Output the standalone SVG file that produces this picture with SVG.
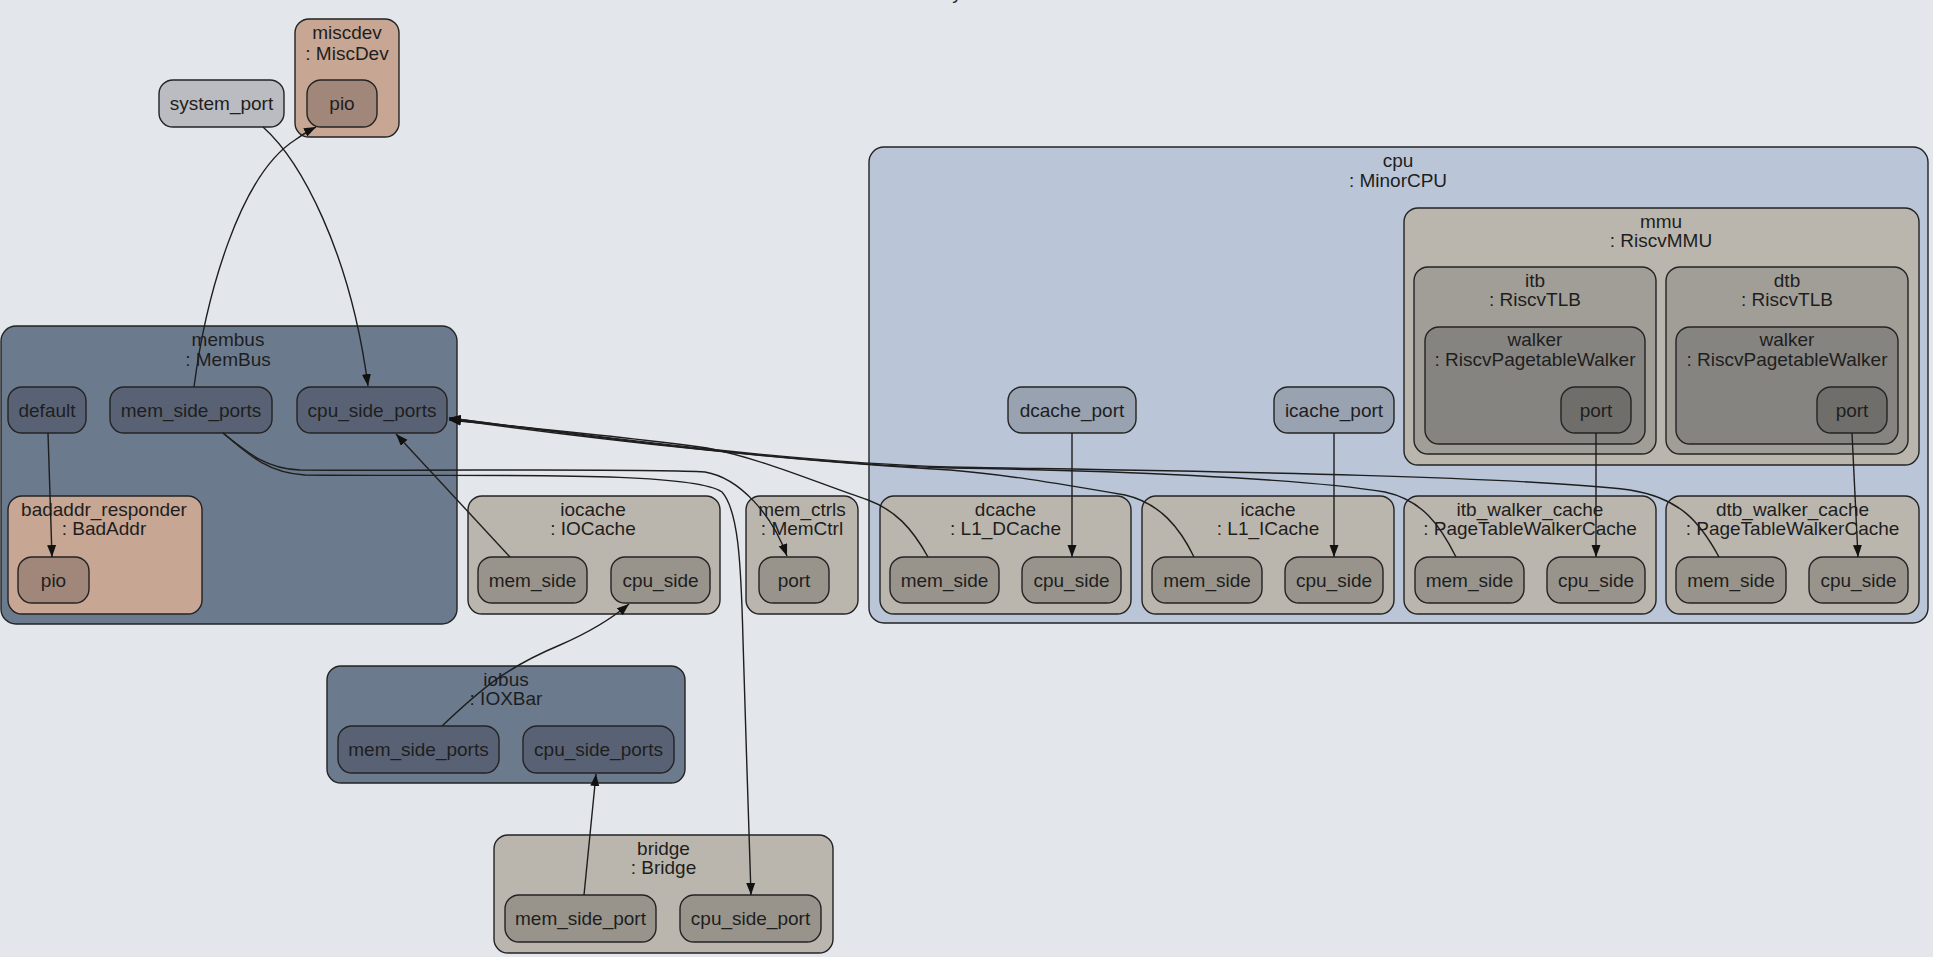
<svg xmlns="http://www.w3.org/2000/svg" width="1933" height="957" viewBox="0 0 1933 957">
<defs>
<style>
.n rect{stroke:#232323;stroke-width:1.4}
text{font-family:"Liberation Sans",Arial,sans-serif;font-size:19px;fill:#1e1e1e;text-anchor:middle}
.bus{fill:#6c7a8e}.busport{fill:#596274}
.cache{fill:#bbb6ad}.cport{fill:#98948c}
.dev{fill:#c7a693}.devport{fill:#a1877a}
.cpu{fill:#bac6d8}.cpuport{fill:#98a2b1}
.tlb{fill:#a19e97}.walker{fill:#868480}.wport{fill:#6f6e6a}
.sys{fill:#babcc1}
.e path{fill:none;stroke:#1e1e1e;stroke-width:1.4;marker-end:url(#ah)}
</style>
<marker id="ah" markerUnits="userSpaceOnUse" markerWidth="13" markerHeight="10" refX="12" refY="4.5" orient="auto"><path d="M0,0 L12,4.5 L0,9 z" fill="#111"/></marker>
</defs>
<rect width="1933" height="957" fill="#e3e7ec"/>
<text x="966" y="-1">: System</text>

<g id="system_port" class="n"><rect class="sys" x="159" y="80" width="125" height="47" rx="14"/><text x="221.5" y="110">system_port</text></g>

<g id="miscdev" class="n"><rect class="dev" x="295" y="19" width="104" height="118" rx="14"/><text x="347" y="39">miscdev</text><text x="347" y="60">: MiscDev</text></g>
<g id="miscdev_pio" class="n"><rect class="devport" x="307" y="80" width="70" height="47" rx="14"/><text x="342" y="110">pio</text></g>

<g id="membus" class="n"><rect class="bus" x="1" y="326" width="456" height="298" rx="15"/><text x="228" y="346">membus</text><text x="228" y="366">: MemBus</text></g>
<g id="membus_default" class="n"><rect class="busport" x="8" y="387" width="78" height="46" rx="14"/><text x="47" y="417">default</text></g>
<g id="membus_mem_side_ports" class="n"><rect class="busport" x="110" y="387" width="162" height="46" rx="14"/><text x="191" y="417">mem_side_ports</text></g>
<g id="membus_cpu_side_ports" class="n"><rect class="busport" x="297" y="387" width="150" height="46" rx="14"/><text x="372" y="417">cpu_side_ports</text></g>
<g id="badaddr_responder" class="n"><rect class="dev" x="8" y="496" width="194" height="118" rx="14"/><text x="104" y="516">badaddr_responder</text><text x="104" y="535">: BadAddr</text></g>
<g id="badaddr_pio" class="n"><rect class="devport" x="18" y="557" width="71" height="46" rx="14"/><text x="53.5" y="587">pio</text></g>

<g id="iocache" class="n"><rect class="cache" x="468" y="496" width="252" height="118" rx="14"/><text x="593" y="516">iocache</text><text x="593" y="535">: IOCache</text></g>
<g id="iocache_mem_side" class="n"><rect class="cport" x="478" y="557" width="109" height="46" rx="14"/><text x="532.5" y="587">mem_side</text></g>
<g id="iocache_cpu_side" class="n"><rect class="cport" x="611" y="557" width="99" height="46" rx="14"/><text x="660.5" y="587">cpu_side</text></g>

<g id="mem_ctrls" class="n"><rect class="cache" x="746" y="496" width="112" height="118" rx="14"/><text x="802" y="516">mem_ctrls</text><text x="802" y="535">: MemCtrl</text></g>
<g id="mem_ctrls_port" class="n"><rect class="cport" x="759" y="557" width="70" height="46" rx="14"/><text x="794" y="587">port</text></g>

<g id="iobus" class="n"><rect class="bus" x="327" y="666" width="358" height="117" rx="14"/><text x="506" y="686">iobus</text><text x="506" y="705">: IOXBar</text></g>
<g id="iobus_mem_side_ports" class="n"><rect class="busport" x="338" y="726" width="161" height="47" rx="14"/><text x="418.5" y="756">mem_side_ports</text></g>
<g id="iobus_cpu_side_ports" class="n"><rect class="busport" x="523" y="726" width="151" height="47" rx="14"/><text x="598.5" y="756">cpu_side_ports</text></g>

<g id="bridge" class="n"><rect class="cache" x="494" y="835" width="339" height="118" rx="14"/><text x="663.5" y="855">bridge</text><text x="663.5" y="874">: Bridge</text></g>
<g id="bridge_mem_side_port" class="n"><rect class="cport" x="505" y="895" width="151" height="47" rx="14"/><text x="580.5" y="925">mem_side_port</text></g>
<g id="bridge_cpu_side_port" class="n"><rect class="cport" x="680" y="895" width="141" height="47" rx="14"/><text x="750.5" y="925">cpu_side_port</text></g>

<g id="cpu" class="n"><rect class="cpu" x="869" y="147" width="1059" height="476" rx="15"/><text x="1398" y="167">cpu</text><text x="1398" y="187">: MinorCPU</text></g>
<g id="cpu_dcache_port" class="n"><rect class="cpuport" x="1008" y="387" width="128" height="46" rx="14"/><text x="1072" y="417">dcache_port</text></g>
<g id="cpu_icache_port" class="n"><rect class="cpuport" x="1274" y="387" width="120" height="46" rx="14"/><text x="1334" y="417">icache_port</text></g>

<g id="mmu" class="n"><rect class="cache" x="1404" y="208" width="515" height="257" rx="14"/><text x="1661" y="228">mmu</text><text x="1661" y="247">: RiscvMMU</text></g>
<g id="itb" class="n"><rect class="tlb" x="1414" y="267" width="242" height="187" rx="14"/><text x="1535" y="287">itb</text><text x="1535" y="306">: RiscvTLB</text></g>
<g id="itb_walker" class="n"><rect class="walker" x="1425" y="327" width="220" height="117" rx="14"/><text x="1535" y="346">walker</text><text x="1535" y="366">: RiscvPagetableWalker</text></g>
<g id="itb_walker_port" class="n"><rect class="wport" x="1561" y="387" width="70" height="46" rx="14"/><text x="1596" y="417">port</text></g>
<g id="dtb" class="n"><rect class="tlb" x="1666" y="267" width="242" height="187" rx="14"/><text x="1787" y="287">dtb</text><text x="1787" y="306">: RiscvTLB</text></g>
<g id="dtb_walker" class="n"><rect class="walker" x="1676" y="327" width="222" height="117" rx="14"/><text x="1787" y="346">walker</text><text x="1787" y="366">: RiscvPagetableWalker</text></g>
<g id="dtb_walker_port" class="n"><rect class="wport" x="1817" y="387" width="70" height="46" rx="14"/><text x="1852" y="417">port</text></g>

<g id="dcache" class="n"><rect class="cache" x="880" y="496" width="251" height="118" rx="14"/><text x="1005.5" y="516">dcache</text><text x="1005.5" y="535">: L1_DCache</text></g>
<g id="dcache_mem_side" class="n"><rect class="cport" x="890" y="557" width="109" height="46" rx="14"/><text x="944.5" y="587">mem_side</text></g>
<g id="dcache_cpu_side" class="n"><rect class="cport" x="1022" y="557" width="99" height="46" rx="14"/><text x="1071.5" y="587">cpu_side</text></g>

<g id="icache" class="n"><rect class="cache" x="1142" y="496" width="252" height="118" rx="14"/><text x="1268" y="516">icache</text><text x="1268" y="535">: L1_ICache</text></g>
<g id="icache_mem_side" class="n"><rect class="cport" x="1152" y="557" width="110" height="46" rx="14"/><text x="1207" y="587">mem_side</text></g>
<g id="icache_cpu_side" class="n"><rect class="cport" x="1285" y="557" width="98" height="46" rx="14"/><text x="1334" y="587">cpu_side</text></g>

<g id="itb_walker_cache" class="n"><rect class="cache" x="1404" y="496" width="252" height="118" rx="14"/><text x="1530" y="516">itb_walker_cache</text><text x="1530" y="535">: PageTableWalkerCache</text></g>
<g id="itb_walker_cache_mem_side" class="n"><rect class="cport" x="1415" y="557" width="109" height="46" rx="14"/><text x="1469.5" y="587">mem_side</text></g>
<g id="itb_walker_cache_cpu_side" class="n"><rect class="cport" x="1547" y="557" width="98" height="46" rx="14"/><text x="1596" y="587">cpu_side</text></g>

<g id="dtb_walker_cache" class="n"><rect class="cache" x="1666" y="496" width="253" height="118" rx="14"/><text x="1792.5" y="516">dtb_walker_cache</text><text x="1792.5" y="535">: PageTableWalkerCache</text></g>
<g id="dtb_walker_cache_mem_side" class="n"><rect class="cport" x="1676" y="557" width="110" height="46" rx="14"/><text x="1731" y="587">mem_side</text></g>
<g id="dtb_walker_cache_cpu_side" class="n"><rect class="cport" x="1809" y="557" width="99" height="46" rx="14"/><text x="1858.5" y="587">cpu_side</text></g>

<g id="connectors" class="e">
<path d="M194,387 C206,295 240,175 295,140 C302,135 308,131 316,127"/>
<path d="M263,127 C300,160 350,250 368,386"/>
<path d="M48,433 L52,557"/>
<path d="M510,557 L396,434"/>
<path d="M442,726 C480,690 505,668 560,645 C590,632 610,620 629,604"/>
<path d="M584,895 L596,774"/>
<path d="M223,433 C250,455 268,469 300,470 C450,471 650,468 705,472 C740,478 772,515 787,556"/>
<path d="M223,433 C252,458 270,473 305,475 C480,477 690,470 722,492 C738,510 741,560 743,640 C745,720 749,820 751,895"/>
<path d="M1072,433 L1072,557"/>
<path d="M1334,433 L1334,557"/>
<path d="M1596,433 L1596,557"/>
<path d="M1852,433 L1858,557"/>
<path d="M928,557 C912,528 895,510 868,500 C820,484 760,458 707,448 C620,436 530,428 449,420"/>
<path d="M1194,557 C1180,528 1160,503 1125,495 C1050,482 1000,474 950,470 C800,462 600,440 449,419"/>
<path d="M1456,557 C1440,525 1422,500 1385,492 C1300,478 1100,470 950,468 C800,464 600,438 449,418"/>
<path d="M1719,557 C1700,522 1680,498 1630,490 C1500,474 1100,470 950,467 C800,463 600,437 449,418"/>
</g>
</svg>
